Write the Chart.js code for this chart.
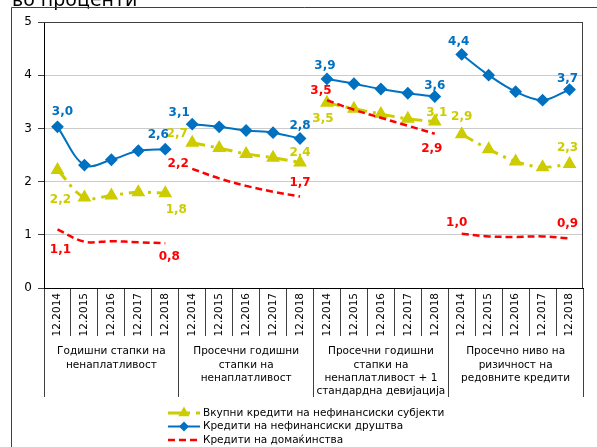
<!DOCTYPE html>
<html>
<head>
<meta charset="utf-8">
<script src="https://cdn.jsdelivr.net/npm/chart.js@4.4.1/dist/chart.umd.min.js"></script>
<style>
body { margin: 0; background: #fff; }
#wrap { width: 597px; height: 447px; position: relative; }
</style>
</head>
<body>
<div id="wrap"><canvas id="chart"></canvas></div>
<script>
// во проценти
var years = ['12.2014', '12.2015', '12.2016', '12.2017', '12.2018'];
var groups = [
    ['Годишни стапки на', 'ненаплатливост'],
    ['Просечни годишни', 'стапки на', 'ненаплатливост'],
    ['Просечни годишни', 'стапки на', 'ненаплатливост + 1', 'стандардна девијација'],
    ['Просечно ниво на', 'ризичност на', 'редовните кредити']
];
var seriesNames = [
    'Вкупни кредити на нефинансиски субјекти',
    'Кредити на нефинансиски друштва',
    'Кредити на домаќинства'
];
var totalLoans = [2.22, 1.70, 1.74, 1.80, 1.78, 2.73, 2.63, 2.52, 2.45, 2.36, 3.48, 3.37, 3.27, 3.18, 3.13, 2.89, 2.61, 2.38, 2.27, 2.33];
var corpLoans = [3.03, 2.31, 2.41, 2.58, 2.61, 3.08, 3.03, 2.96, 2.92, 2.81, 3.93, 3.84, 3.74, 3.66, 3.60, 4.39, 4.00, 3.69, 3.53, 3.73];
var houseLoans = [1.10, 0.87, 0.88, 0.86, 0.84, 2.24, 2.06, 1.92, 1.81, 1.72, 3.53, 3.35, 3.20, 3.05, 2.90, 1.02, 0.97, 0.96, 0.97, 0.93];

var labels = [];
groups.forEach(function () { labels = labels.concat(years); });

// styles of the three series, with where their first/last value labels sit
var styles = [
    { values: totalLoans, color: '#CCCC00', width: 3, dash: [13, 6, 3, 6], point: 'triangle', radius: 5,
      offsets: [[3, 30], [11, 17], [-15, -9], [0, -10], [-4, 16], [2, -9], [0, -17], [-2, -16]] },
    { values: corpLoans, color: '#0070C0', width: 2, dash: [], point: 'rectRot', radius: 5,
      offsets: [[5, -15], [-7, -14], [-13, -11], [0, -13], [-2, -13], [0, -11], [-3, -13], [-2, -11]] },
    { values: houseLoans, color: '#FF0000', width: 2.5, dash: [7, 4], point: false, radius: 0,
      offsets: [[3, 20], [4, 14], [-14, -5], [0, -14], [-6, -9], [-3, 15], [-5, -11], [-2, -15]] }
];

// one dataset per series and group, so the lines break between groups
var datasets = [];
styles.forEach(function (s, si) {
    groups.forEach(function (g, gi) {
        datasets.push({
            label: seriesNames[si],
            data: s.values.map(function (v, i) { return Math.floor(i / 5) == gi ? v : null; }),
            borderColor: s.color,
            backgroundColor: s.color,
            borderWidth: s.width,
            borderDash: s.dash,
            pointStyle: s.point,
            pointRadius: s.radius,
            pointHoverRadius: s.radius,
            tension: 0.35,
            spanGaps: false,
            group: gi,
            series: si,
            order: 3 - si
        });
    });
});

var valueLabels = {
    id: 'valueLabels',
    afterDatasetsDraw: function (chart) {
        var ctx = chart.ctx;
        ctx.save();
        ctx.font = 'bold 12px "DejaVu Sans"';
        ctx.textAlign = 'center';
        ctx.textBaseline = 'middle';
        chart.data.datasets.forEach(function (ds, di) {
            var meta = chart.getDatasetMeta(di);
            var s = styles[ds.series];
            [0, 4].forEach(function (k, j) {
                var idx = ds.group * 5 + k;
                var pt = meta.data[idx];
                var off = s.offsets[ds.group * 2 + j];
                ctx.fillStyle = s.color;
                ctx.fillText(ds.data[idx].toFixed(1).replace('.', ','), pt.x + off[0], pt.y + off[1]);
            });
        });
        ctx.restore();
    }
};

var frame = {
    id: 'frame',
    beforeDraw: function (chart) {
        var ctx = chart.ctx;
        ctx.save();
        ctx.fillStyle = '#fff';
        ctx.fillRect(0, 0, chart.width, chart.height);
        ctx.fillStyle = '#000';
        ctx.font = '19px "DejaVu Sans"';
        ctx.textBaseline = 'alphabetic';
        ctx.fillText('во проценти', 12, 6);
        ctx.strokeStyle = '#404040';
        ctx.lineWidth = 1;
        ctx.beginPath();
        ctx.moveTo(11.5, chart.height);
        ctx.lineTo(11.5, 7.5);
        ctx.lineTo(chart.width, 7.5);
        ctx.stroke();
        ctx.restore();
    },
    beforeDatasetsDraw: function (chart) {
        var a = chart.chartArea;
        var ctx = chart.ctx;
        ctx.save();
        ctx.strokeStyle = '#404040';
        ctx.lineWidth = 1;
        ctx.beginPath();
        ctx.moveTo(a.left, a.top + 0.5);
        ctx.lineTo(a.right - 0.5, a.top + 0.5);
        ctx.lineTo(a.right - 0.5, a.bottom);
        ctx.stroke();
        ctx.restore();
    },
    afterDraw: function (chart) {
        var ctx = chart.ctx;
        ctx.save();
        ctx.font = '10.5px "DejaVu Sans"';
        ctx.textBaseline = 'middle';
        styles.forEach(function (s, i) {
            var y = 413 + i * 13.5;
            ctx.strokeStyle = s.color;
            ctx.lineWidth = s.width;
            ctx.setLineDash(s.dash);
            ctx.beginPath();
            ctx.moveTo(168, y);
            ctx.lineTo(200, y);
            ctx.stroke();
            ctx.setLineDash([]);
            if (s.point) {
                ctx.fillStyle = s.color;
                Chart.helpers.drawPoint(ctx, { pointStyle: s.point, radius: s.radius * 0.7, borderWidth: 1 }, 184, y);
                ctx.fill();
            }
            ctx.fillStyle = '#000';
            ctx.fillText(seriesNames[i], 203, y);
        });
        ctx.restore();
    }
};

Chart.defaults.font.family = '"DejaVu Sans"';
Chart.defaults.color = '#000';

new Chart(document.getElementById('chart'), {
    type: 'line',
    data: { labels: labels, datasets: datasets },
    options: {
        responsive: true,
        maintainAspectRatio: false,
        animation: false,
        layout: { padding: { left: 11, right: 14, top: 22, bottom: 50 } },
        plugins: { legend: { display: false }, tooltip: { enabled: false } },
        scales: {
            x: {
                offset: true,
                weight: 0,
                grid: { offset: true, drawOnChartArea: false, tickLength: 48, color: '#404040', tickWidth: 1 },
                border: { color: '#000' },
                ticks: { autoSkip: false, minRotation: 90, maxRotation: 90, padding: -43, font: { size: 10.5 } },
                afterFit: function (scale) { scale.height = 48; }
            },
            xg: {
                type: 'category',
                labels: groups,
                position: 'bottom',
                offset: true,
                weight: 1,
                grid: { offset: true, drawOnChartArea: false, tickLength: 61, color: '#404040' },
                border: { display: false },
                ticks: { autoSkip: false, maxRotation: 0, minRotation: 0, padding: -52, font: { size: 10.5, lineHeight: 1.27 } },
                afterFit: function (scale) { scale.height = 61; }
            },
            y: {
                min: 0,
                max: 5,
                ticks: { stepSize: 1, padding: 6, font: { size: 12 } },
                grid: {
                    tickLength: 6,
                    tickColor: '#404040',
                    color: function (c) { return c.tick && c.tick.value == 5 ? '#404040' : '#cccccc'; }
                },
                border: { color: '#000' },
                afterFit: function (scale) { scale.width = 33; }
            }
        }
    },
    plugins: [frame, valueLabels]
});
</script>
</body>
</html>
